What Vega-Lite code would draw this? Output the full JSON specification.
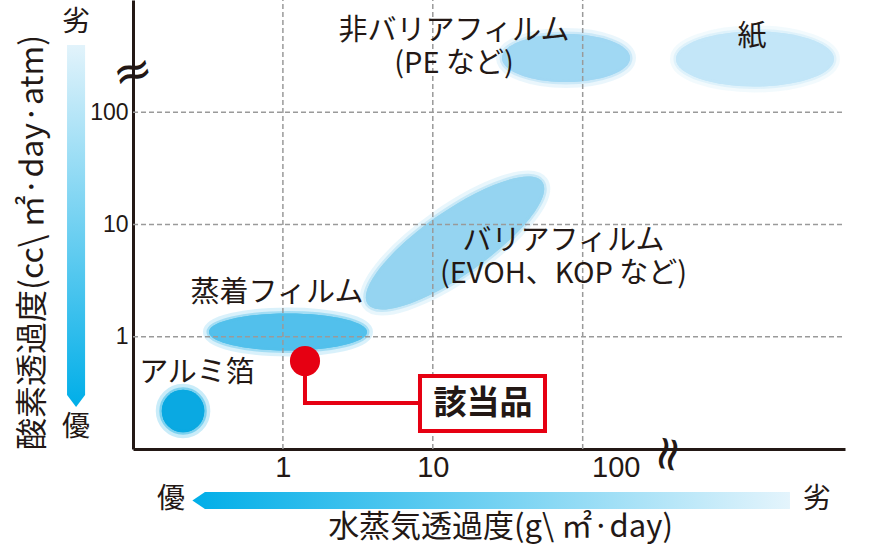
{
  "$schema": "https://vega.github.io/schema/vega-lite/v6.json",
  "width": 712,
  "height": 449,
  "autosize": {"type": "none"},
  "padding": {"left": 133, "top": 0, "right": 33, "bottom": 97},
  "background": "white",
  "datasets": {
    "films": [
      {"film": "アルミ箔", "wvtr": 0.2157, "otr": 0.2181},
      {"film": "蒸着フィルム", "wvtr": 1.081, "otr": 1.102},
      {"film": "バリアフィルム", "wvtr": 14.07, "otr": 6.843},
      {"film": "非バリアフィルム", "wvtr": 77.4, "otr": 304.3},
      {"film": "紙", "wvtr": 1410, "otr": 298.1}
    ],
    "labels": [
      {"text": ["非バリアフィルム", "(PE など)"], "wvtr": 13.85, "otr": 529.6},
      {"text": ["紙"], "wvtr": 1347, "otr": 468},
      {"text": ["バリアフィルム", "(EVOH、KOP など)"], "wvtr": 74.46, "otr": 7.13},
      {"text": ["蒸着フィルム"], "wvtr": 0.913, "otr": 2.453},
      {"text": ["アルミ箔"], "wvtr": 0.2673, "otr": 0.4754}
    ],
    "grid_x": [
      {"wvtr": 1, "otr": 0.1, "otr2": 1000},
      {"wvtr": 10, "otr": 0.1, "otr2": 1000},
      {"wvtr": 100, "otr": 0.1, "otr2": 1000}
    ],
    "grid_y": [
      {"otr": 1, "wvtr": 0.1, "wvtr2": 5623},
      {"otr": 10, "wvtr": 0.1, "wvtr2": 5623},
      {"otr": 100, "wvtr": 0.1, "wvtr2": 5623}
    ],
    "product": [{"name": "該当品", "wvtr": 1.404, "otr": 0.608}],
    "leader": [
      {"step": 1, "wvtr": 1.404, "otr": 0.608},
      {"step": 2, "wvtr": 1.404, "otr": 0.257},
      {"step": 3, "wvtr": 8.215, "otr": 0.257}
    ],
    "callout_box": [{"wvtr": 8.215, "wvtr2": 56.05, "otr": 0.447, "otr2": 0.1447}],
    "callout_text": [{"text": "該当品", "wvtr": 21.62, "otr": 0.2517}],
    "arrow_y": [
      {"otr": 397, "wvtr": 0.0363, "wvtr2": 0.0479},
      {"otr": 0.3027, "wvtr": 0.0363, "wvtr2": 0.0479},
      {"otr": 0.2366, "wvtr": 0.0417, "wvtr2": 0.0417}
    ],
    "arrow_x": [
      {"wvtr": 0.249, "otr": 0.0348, "otr2": 0.0348},
      {"wvtr": 0.302, "otr": 0.0414, "otr2": 0.0292},
      {"wvtr": 2415, "otr": 0.0414, "otr2": 0.0292}
    ],
    "ratings": [
      {"text": "劣", "wvtr": 0.0417, "otr": 624},
      {"text": "優", "wvtr": 0.0417, "otr": 0.154},
      {"text": "優", "wvtr": 0.1792, "otr": 0.0348},
      {"text": "劣", "wvtr": 3648, "otr": 0.0348}
    ],
    "break_y": [{"wvtr": 0.1, "otr": 223.7}],
    "break_x": [{"wvtr": 365.1, "otr": 0.0902}]
  },
  "encoding": {
    "x": {
      "field": "wvtr",
      "type": "quantitative",
      "scale": {"type": "log", "domain": [0.1, 5623], "nice": false},
      "axis": {
        "values": [1, 10, 100],
        "format": "d",
        "title": "水蒸気透過度(g\\ ㎡·day)",
        "grid": false,
        "ticks": false,
        "labelFont": "Liberation Sans",
        "labelFontSize": 29,
        "labelColor": "#231815",
        "labelPadding": 4,
        "labelFlush": false,
        "labelOverlap": false,
        "labelOffset": {"condition": {"test": "datum.value == 100", "value": 33}, "value": 0},
        "domainColor": "#231815",
        "domainWidth": 3,
        "titleFont": "Noto Sans CJK JP",
        "titleFontSize": 31,
        "titleFontWeight": "normal",
        "titleColor": "#231815",
        "titleX": 367,
        "titleY": 78,
        "titleAlign": "center",
        "titleBaseline": "middle",
        "zindex": 0
      }
    },
    "y": {
      "field": "otr",
      "type": "quantitative",
      "scale": {"type": "log", "domain": [0.1, 1000], "nice": false},
      "axis": {
        "values": [1, 10, 100],
        "format": "d",
        "title": "酸素透過度(cc\\ ㎡·day·atm)",
        "grid": false,
        "ticks": false,
        "labelFont": "Liberation Sans",
        "labelFontSize": 23,
        "labelColor": "#231815",
        "labelPadding": 5,
        "labelFlush": false,
        "domainColor": "#231815",
        "domainWidth": 3,
        "titleFont": "Noto Sans CJK JP",
        "titleFontSize": 32,
        "titleFontWeight": "normal",
        "titleColor": "#231815",
        "titleX": -101,
        "titleY": 242,
        "titleAlign": "center",
        "titleBaseline": "middle",
        "zindex": 0
      }
    }
  },
  "layer": [
    {
      "data": {"name": "arrow_y"},
      "mark": {
        "type": "area",
        "orient": "horizontal",
        "color": {
          "gradient": "linear",
          "x1": 0, "y1": 0, "x2": 0, "y2": 1,
          "stops": [
            {"offset": 0, "color": "#e2f3fb"},
            {"offset": 1, "color": "#00aee8"}
          ]
        }
      },
      "encoding": {"x2": {"field": "wvtr2"}}
    },
    {
      "data": {"name": "arrow_x"},
      "mark": {
        "type": "area",
        "color": {
          "gradient": "linear",
          "x1": 0, "y1": 0, "x2": 1, "y2": 0,
          "stops": [
            {"offset": 0, "color": "#00aee8"},
            {"offset": 1, "color": "#e4f4fc"}
          ]
        }
      },
      "encoding": {"y2": {"field": "otr2"}}
    },
    {
      "data": {"name": "films"},
      "transform": [{"filter": "datum.film == 'アルミ箔'"}],
      "layer": [
        {"mark": {"type": "point", "shape": "circle", "filled": true, "size": 1810, "color": "#0aa9e2", "opacity": 1, "stroke": "#0aa9e2", "strokeWidth": 12, "strokeOpacity": 0.22}},
        {"mark": {"type": "point", "shape": "circle", "filled": true, "size": 1810, "color": "#0aa9e2", "opacity": 1, "stroke": "#0aa9e2", "strokeWidth": 5, "strokeOpacity": 0.4}}
      ]
    },
    {
      "data": {"name": "films"},
      "transform": [{"filter": "datum.film == '蒸着フィルム'"}],
      "layer": [
        {"mark": {"type": "point", "shape": "M -1 0 C -1 -0.129 -0.552 -0.234 0 -0.234 C 0.552 -0.234 1 -0.129 1 0 C 1 0.129 0.552 0.234 0 0.234 C -0.552 0.234 -1 0.129 -1 0 Z", "filled": true, "size": 24964, "color": "#52c0ec", "opacity": 1, "stroke": "#52c0ec", "strokeWidth": 12, "strokeOpacity": 0.22}},
        {"mark": {"type": "point", "shape": "M -1 0 C -1 -0.129 -0.552 -0.234 0 -0.234 C 0.552 -0.234 1 -0.129 1 0 C 1 0.129 0.552 0.234 0 0.234 C -0.552 0.234 -1 0.129 -1 0 Z", "filled": true, "size": 24964, "color": "#52c0ec", "opacity": 1, "stroke": "#52c0ec", "strokeWidth": 5, "strokeOpacity": 0.4}}
      ]
    },
    {
      "data": {"name": "films"},
      "transform": [{"filter": "datum.film == 'バリアフィルム'"}],
      "layer": [
        {"mark": {"type": "point", "shape": "M -1 0 C -1 -0.166 -0.552 -0.3 0 -0.3 C 0.552 -0.3 1 -0.166 1 0 C 1 0.166 0.552 0.3 0 0.3 C -0.552 0.3 -1 0.166 -1 0 Z", "angle": -35, "filled": true, "size": 45369, "color": "#95d4f1", "opacity": 1, "stroke": "#95d4f1", "strokeWidth": 12, "strokeOpacity": 0.22}},
        {"mark": {"type": "point", "shape": "M -1 0 C -1 -0.166 -0.552 -0.3 0 -0.3 C 0.552 -0.3 1 -0.166 1 0 C 1 0.166 0.552 0.3 0 0.3 C -0.552 0.3 -1 0.166 -1 0 Z", "angle": -35, "filled": true, "size": 45369, "color": "#95d4f1", "opacity": 1, "stroke": "#95d4f1", "strokeWidth": 5, "strokeOpacity": 0.4}}
      ]
    },
    {
      "data": {"name": "films"},
      "transform": [{"filter": "datum.film == '非バリアフィルム'"}],
      "layer": [
        {"mark": {"type": "point", "shape": "M -1 0 C -1 -0.207 -0.552 -0.375 0 -0.375 C 0.552 -0.375 1 -0.207 1 0 C 1 0.207 0.552 0.375 0 0.375 C -0.552 0.375 -1 0.207 -1 0 Z", "filled": true, "size": 16384, "color": "#a0d8f3", "opacity": 1, "stroke": "#a0d8f3", "strokeWidth": 12, "strokeOpacity": 0.22}},
        {"mark": {"type": "point", "shape": "M -1 0 C -1 -0.207 -0.552 -0.375 0 -0.375 C 0.552 -0.375 1 -0.207 1 0 C 1 0.207 0.552 0.375 0 0.375 C -0.552 0.375 -1 0.207 -1 0 Z", "filled": true, "size": 16384, "color": "#a0d8f3", "opacity": 1, "stroke": "#a0d8f3", "strokeWidth": 5, "strokeOpacity": 0.4}}
      ]
    },
    {
      "data": {"name": "films"},
      "transform": [{"filter": "datum.film == '紙'"}],
      "layer": [
        {"mark": {"type": "point", "shape": "M -1 0 C -1 -0.192 -0.552 -0.348 0 -0.348 C 0.552 -0.348 1 -0.192 1 0 C 1 0.192 0.552 0.348 0 0.348 C -0.552 0.348 -1 0.192 -1 0 Z", "filled": true, "size": 24964, "color": "#c3e6f8", "opacity": 1, "stroke": "#c3e6f8", "strokeWidth": 12, "strokeOpacity": 0.22}},
        {"mark": {"type": "point", "shape": "M -1 0 C -1 -0.192 -0.552 -0.348 0 -0.348 C 0.552 -0.348 1 -0.192 1 0 C 1 0.192 0.552 0.348 0 0.348 C -0.552 0.348 -1 0.192 -1 0 Z", "filled": true, "size": 24964, "color": "#c3e6f8", "opacity": 1, "stroke": "#c3e6f8", "strokeWidth": 5, "strokeOpacity": 0.4}}
      ]
    },
    {
      "data": {"name": "grid_x"},
      "mark": {"type": "rule", "color": "#9a9a9a", "strokeWidth": 1.5, "strokeDash": [5, 3]},
      "encoding": {"y2": {"field": "otr2"}}
    },
    {
      "data": {"name": "grid_y"},
      "mark": {"type": "rule", "color": "#9a9a9a", "strokeWidth": 1.5, "strokeDash": [5, 3]},
      "encoding": {"x2": {"field": "wvtr2"}}
    },
    {
      "data": {"name": "labels"},
      "mark": {"type": "text", "font": "Noto Sans CJK JP", "fontSize": 29, "lineHeight": 33, "color": "#231815", "align": "center", "baseline": "middle"},
      "encoding": {"text": {"field": "text"}}
    },
    {
      "data": {"name": "leader"},
      "mark": {"type": "line", "color": "#e60012", "strokeWidth": 4},
      "encoding": {"order": {"field": "step", "type": "quantitative"}}
    },
    {
      "data": {"name": "product"},
      "mark": {"type": "point", "shape": "circle", "filled": true, "size": 908, "color": "#e60012", "opacity": 1}
    },
    {
      "data": {"name": "callout_box"},
      "mark": {"type": "rect", "fill": "white", "stroke": "#e60012", "strokeWidth": 4},
      "encoding": {"x2": {"field": "wvtr2"}, "y2": {"field": "otr2"}}
    },
    {
      "data": {"name": "callout_text"},
      "mark": {"type": "text", "font": "Noto Sans CJK JP", "fontSize": 33, "fontWeight": "bold", "color": "#231815", "align": "center", "baseline": "middle"},
      "encoding": {"text": {"field": "text"}}
    },
    {
      "data": {"name": "ratings"},
      "mark": {"type": "text", "font": "Noto Sans CJK JP", "fontSize": 28, "color": "#231815", "align": "center", "baseline": "middle"},
      "encoding": {"text": {"field": "text"}}
    },
    {
      "data": {"name": "break_y"},
      "mark": {"type": "text", "text": "≈", "font": "DejaVu Sans", "fontSize": 48, "angle": -15, "color": "#231815", "align": "center", "baseline": "middle"}
    },
    {
      "data": {"name": "break_x"},
      "mark": {"type": "text", "text": "≈", "font": "DejaVu Sans", "fontSize": 48, "angle": 100, "color": "#231815", "align": "center", "baseline": "middle"}
    }
  ],
  "config": {
    "view": {"stroke": null},
    "font": "Noto Sans CJK JP"
  }
}
